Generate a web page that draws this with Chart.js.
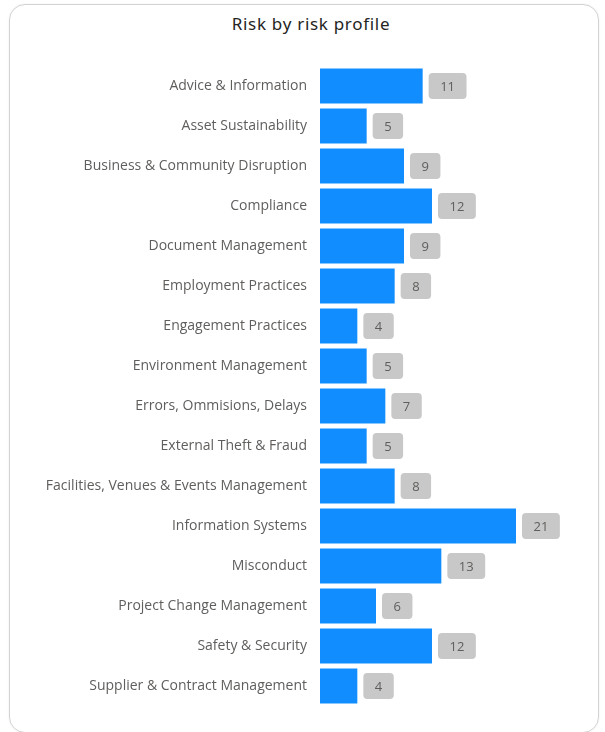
<!DOCTYPE html>
<html lang="en">
<head>
  <meta charset="UTF-8" />
  <title>Risk by risk profile</title>
  <script src="https://cdn.jsdelivr.net/npm/chart.js"></script>
  <style>
    body { margin: 0; background: #fff; font-family: "Open Sans", sans-serif; }
    #card { position: absolute; left: 9px; top: 4px; width: 588px; height: 727px; border: 1px solid #d2d2d2; border-radius: 16px; box-shadow: 0 0 2px rgba(0,0,0,0.08); }
    #title { position: absolute; left: 211px; width: 200px; top: 12px; text-align: center; font-family: "Noto Sans", sans-serif; font-size: 17px; letter-spacing: 0.7px; color: #252423; }
    #chart { position: absolute; left: 0; top: 0; }
  </style>
</head>
<body>
  <div id="card"></div>
  <div id="title">Risk by risk profile</div>
  <canvas id="chart" width="605" height="732"></canvas>

  <script>
    // kategoriler ve değerler
    const profiles = [
      "Advice & Information",
      "Asset Sustainability",
      "Business & Community Disruption",
      "Compliance",
      "Document Management",
      "Employment Practices",
      "Engagement Practices",
      "Environment Management",
      "Errors, Ommisions, Delays",
      "External Theft & Fraud",
      "Facilities, Venues & Events Management",
      "Information Systems",
      "Misconduct",
      "Project Change Management",
      "Safety & Security",
      "Supplier & Contract Management"
    ];
    const riskCounts = [11, 5, 9, 12, 9, 8, 4, 5, 7, 5, 8, 21, 13, 6, 12, 4];

    // grey label boxes next to each bar
    const boxLabels = {
      id: "boxLabels",
      afterDatasetsDraw(chart) {
        const ctx = chart.ctx;
        const meta = chart.getDatasetMeta(0);
        ctx.save();
        ctx.font = "13px 'Open Sans', sans-serif";
        ctx.textAlign = "center";
        ctx.textBaseline = "middle";
        meta.data.forEach((bar, i) => {
          const txt = String(riskCounts[i]);
          const w = ctx.measureText(txt).width + 23;
          const h = 26;
          const x = bar.x + 6;
          const y = bar.y - h / 2;
          ctx.fillStyle = "#c8c8c8";
          ctx.beginPath();
          ctx.roundRect(x, y, w, h, 4);
          ctx.fill();
          ctx.fillStyle = "#605e5c";
          ctx.fillText(txt, x + w / 2, bar.y + 1);
        });
        ctx.restore();
      }
    };

    new Chart(document.getElementById("chart"), {
      type: "bar",
      data: {
        labels: profiles,
        datasets: [{
          data: riskCounts,
          backgroundColor: "#118dff",
          barPercentage: 0.875,
          categoryPercentage: 1
        }]
      },
      options: {
        indexAxis: "y",
        responsive: false,
        animation: false,
        layout: { padding: { left: 10, right: 89, top: 66, bottom: 26 } },
        plugins: {
          legend: { display: false },
          tooltip: { enabled: false }
        },
        scales: {
          x: { display: false, min: 0, max: 21 },
          y: {
            grid: { display: false },
            border: { display: false },
            ticks: {
              color: "#605e5c",
              font: { family: "'Open Sans', sans-serif", size: 14 },
              padding: 5
            },
            afterFit(scale) { scale.width = 310; }
          }
        }
      },
      plugins: [boxLabels]
    });
  </script>
</body>
</html>
